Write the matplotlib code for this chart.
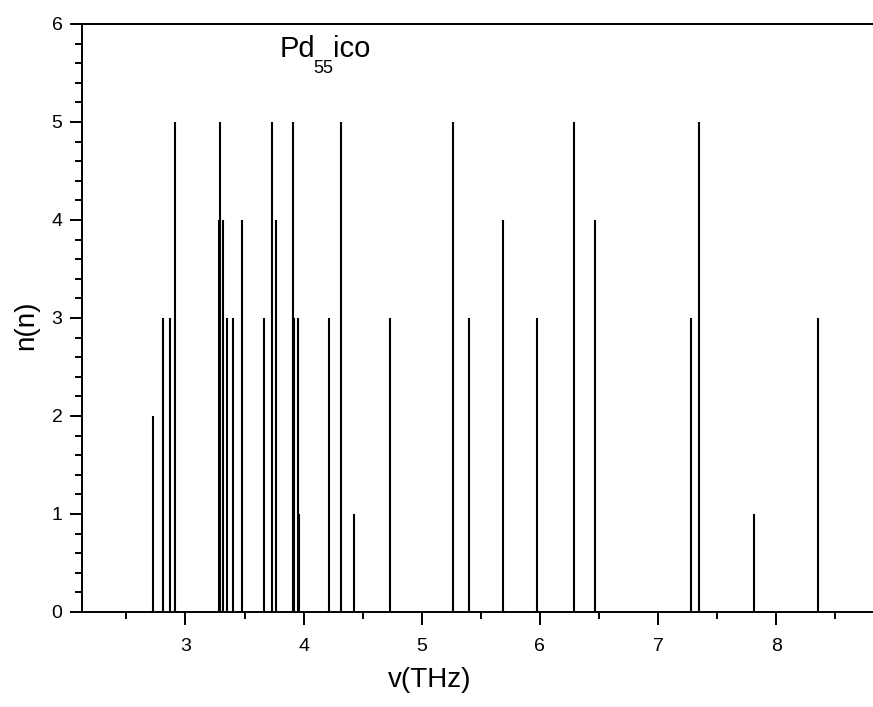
import numpy as np
import matplotlib
matplotlib.use("Agg")
import matplotlib.pyplot as plt
from matplotlib.ticker import MultipleLocator
from matplotlib.transforms import IdentityTransform

plt.rcParams['font.family'] = ['Liberation Sans', 'DejaVu Sans']

# vibrational frequencies (THz) and their degeneracy n
freq = [2.722, 2.807, 2.871, 2.914, 3.286, 3.295, 3.320, 3.349, 3.402, 3.481,
        3.665, 3.735, 3.764, 3.907, 3.919, 3.955, 3.964, 4.212, 4.319, 4.430,
        4.729, 5.262, 5.398, 5.686, 5.979, 6.292, 6.465, 7.280, 7.351, 7.814,
        8.353]
degen = [2, 3, 3, 5, 4, 5, 4, 3, 3, 4,
         3, 5, 4, 5, 3, 3, 1, 3, 5, 1,
         3, 5, 3, 4, 3, 5, 4, 3, 5, 1,
         3]

fig = plt.figure(figsize=(8.73, 7.07), dpi=100)
ax = fig.add_axes([82/873, 95/707, 1 - 82/873, 588/707])

ax.vlines(freq, 0, degen, color='black', lw=1.5)

ax.set_xlim(2.124, 8.82)
ax.set_ylim(0, 6)
ax.xaxis.set_major_locator(MultipleLocator(1))
ax.xaxis.set_minor_locator(MultipleLocator(0.5))
ax.yaxis.set_major_locator(MultipleLocator(1))
ax.yaxis.set_minor_locator(MultipleLocator(0.2))

ax.spines['right'].set_visible(False)
for s in ['left', 'bottom', 'top']:
    ax.spines[s].set_linewidth(1.4)

ax.tick_params(which='both', direction='out', top=False, right=False, width=1.4)
ax.tick_params(which='major', length=9, labelsize=14)
ax.tick_params(axis='x', which='major', pad=10)
ax.tick_params(axis='y', which='major', pad=5)
ax.tick_params(which='minor', length=5)

ax.set_xlabel('v(THz)', fontsize=20)
ax.set_ylabel('n(n)', fontsize=20)
ax.xaxis.set_label_coords((430 - 82) / 791, -(667 - 612) / 588)
ax.yaxis.set_label_coords(-(82 - 39) / 791, (612 - 325) / 588)

# Pd_55 ico, subscript placed by hand
t1 = ax.text(3.80, 5.666, 'Pd', fontsize=21, ha='left', va='baseline')
fig.canvas.draw()
base = ax.transData.transform((3.80, 5.666))[1]
bb1 = t1.get_window_extent()
t2 = fig.text(bb1.x1 - 2, base - 16, '55', fontsize=13, ha='left',
              va='baseline', transform=IdentityTransform())
fig.canvas.draw()
bb2 = t2.get_window_extent()
fig.text(bb2.x1 - 1, base, 'ico', fontsize=21, ha='left', va='baseline',
         transform=IdentityTransform())

fig.savefig('out.png', dpi=100)
